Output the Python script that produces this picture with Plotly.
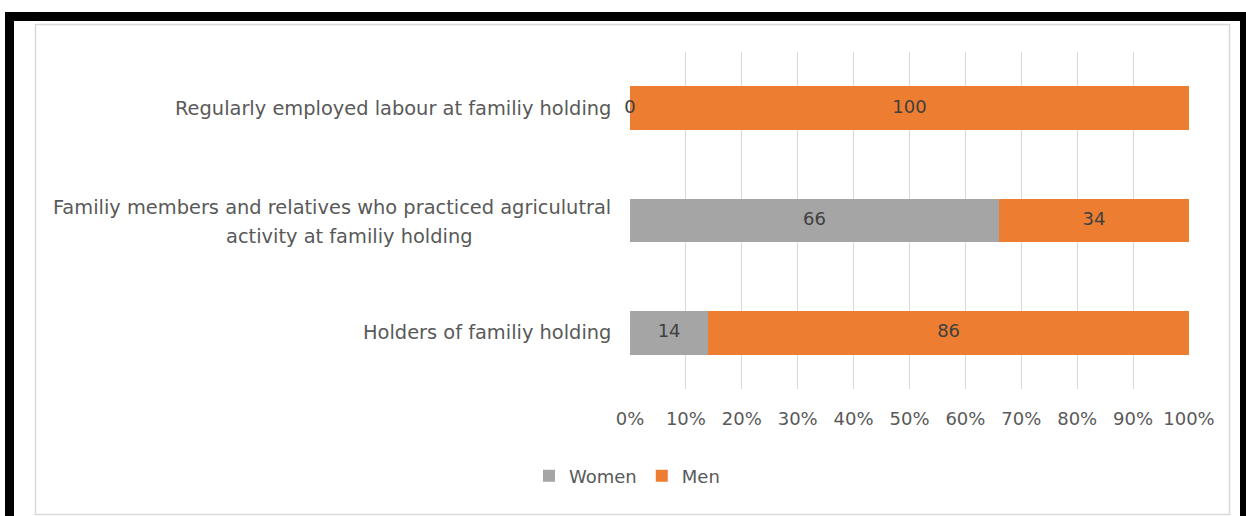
import plotly.graph_objects as go

# Share of women and men by category (percent)
categories = [
    "Holders of familiy holding",
    "Familiy members and relatives who practiced agriculutral<br>activity at familiy holding",
    "Regularly employed labour at familiy holding",
]
women = [14, 66, 0]
men = [86, 34, 100]
x_ticks = [0, 10, 20, 30, 40, 50, 60, 70, 80, 90, 100]
x_tick_labels = [f"{v}%" for v in x_ticks]

W, H = 1246, 516
L, R, T, B = 630, 1189, 52, 389  # plot area in pixels

GRAY = "#A5A5A5"
ORANGE = "#ED7D31"
TEXT = "#595959"
FONT = "DejaVu Sans"
FS = 18
CAT_FS = 19.4


def px(x):
    return (x - L) / (R - L)


def py(y):
    return (B - y) / (B - T)


fig = go.Figure()
fig.add_trace(go.Bar(y=categories, x=women, name="Women", orientation="h",
                     marker=dict(color=GRAY, line=dict(width=0))))
fig.add_trace(go.Bar(y=categories, x=men, name="Men", orientation="h",
                     marker=dict(color=ORANGE, line=dict(width=0))))

# Value labels centred in each segment
lab_x, lab_y, lab_t = [], [], []
for c, w, m in zip(categories, women, men):
    lab_x += [w / 2, w + m / 2]
    lab_y += [c, c]
    lab_t += [str(w), str(m)]
fig.add_trace(go.Scatter(x=lab_x, y=lab_y, text=lab_t, mode="text", cliponaxis=False,
                         textfont=dict(family=FONT, size=FS, color="#404040"),
                         showlegend=False, hoverinfo="skip"))

# Category labels; wrapped labels get wider line spacing, lines centred
for c in categories:
    lines = c.split("<br>")
    if len(lines) == 1:
        fig.add_annotation(x=px(613), xref="paper", y=c, yref="y", text=c,
                           xanchor="right", yanchor="middle", showarrow=False,
                           font=dict(family=FONT, size=CAT_FS, color=TEXT))
    else:
        fig.add_annotation(x=px(613), xref="paper", y=c, yref="y", text=lines[0],
                           xanchor="right", yanchor="middle", showarrow=False, yshift=13,
                           font=dict(family=FONT, size=CAT_FS, color=TEXT))
        fig.add_annotation(x=px(349), xref="paper", y=c, yref="y", text=lines[1],
                           xanchor="center", yanchor="middle", showarrow=False, yshift=-16,
                           font=dict(family=FONT, size=CAT_FS, color=TEXT))

shapes = [
    # outer black frame
    dict(type="rect", xref="paper", yref="paper", x0=px(5), x1=px(1246), y0=py(21), y1=py(12),
         fillcolor="black", line=dict(width=0), layer="above"),
    dict(type="rect", xref="paper", yref="paper", x0=px(5), x1=px(14), y0=py(516), y1=py(12),
         fillcolor="black", line=dict(width=0), layer="above"),
    dict(type="rect", xref="paper", yref="paper", x0=px(1240), x1=px(1246), y0=py(516), y1=py(12),
         fillcolor="black", line=dict(width=0), layer="above"),
    # chart area border
    dict(type="rect", xref="paper", yref="paper", x0=px(35.5), x1=px(1229.5), y0=py(514.5), y1=py(24.5),
         fillcolor="rgba(0,0,0,0)", line=dict(color="#D9D9D9", width=1.5), layer="below"),
]

fig.update_layout(
    width=W, height=H,
    margin=dict(l=L, r=W - R, t=T, b=H - B),
    barmode="stack", bargap=0.61,
    plot_bgcolor="white", paper_bgcolor="white",
    font=dict(family=FONT, size=FS, color=TEXT),
    shapes=shapes,
    showlegend=True,
    legend=dict(orientation="h", x=px(627), xanchor="center", y=py(476), yanchor="middle",
                font=dict(family=FONT, size=FS, color=TEXT), itemwidth=30,
                traceorder="normal", bgcolor="rgba(0,0,0,0)"),
    xaxis=dict(range=[0, 100], tickvals=x_ticks, ticktext=x_tick_labels,
               showgrid=True, gridcolor="#D9D9D9", gridwidth=1, zeroline=False,
               showline=False, ticks="", ticklabelstandoff=17,
               tickfont=dict(family=FONT, size=FS, color=TEXT), fixedrange=True),
    yaxis=dict(categoryorder="array", categoryarray=categories, showticklabels=False,
               showgrid=False, zeroline=False, showline=False, ticks="", fixedrange=True),
)

fig.write_html("out.html")
